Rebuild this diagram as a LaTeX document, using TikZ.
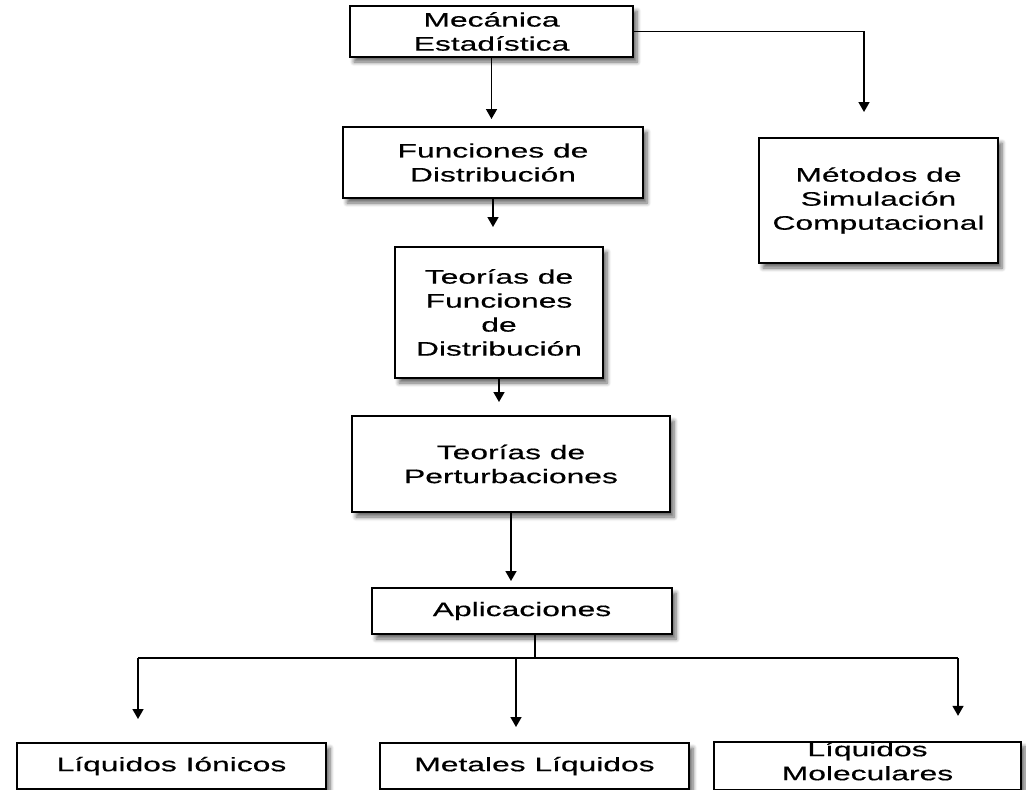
\documentclass[tikz,border=0pt]{standalone}
\usepackage{fontspec}
\setmainfont{Liberation Sans}[FakeStretch=1.63, FakeBold=0.4]
\usetikzlibrary{arrows.meta, shadows.blur}
\tikzstyle{box} = [rectangle, draw=black, line width=1pt, fill=white, align=center, inner sep=0pt, text=black, font=\fontsize{9.75pt}{12pt}\selectfont, blur shadow={shadow xshift=2pt, shadow yshift=-2.5pt, shadow blur steps=6, shadow opacity=60}]
\tikzstyle{arrow} = [line width=0.8pt, -{Triangle[width=5.5pt, length=5pt]}]
\tikzstyle{line} = [line width=0.8pt]

\begin{document}
\begin{tikzpicture}[x=0.5pt, y=-0.5pt]
    \useasboundingbox (0,0) rectangle (1026,789);
    \node (mec) [box, minimum width=141.5pt, minimum height=25.5pt] at (491.5,31.5) {Mecánica\\Estadística};
    \node (fun) [box, minimum width=150pt, minimum height=35.5pt] at (493,162.5) {Funciones de\\Distribución};
    \node (tfd) [box, minimum width=104pt, minimum height=65.5pt] at (499,312.5) {Teorías de\\Funciones\\de\\Distribución};
    \node (per) [box, minimum width=159pt, minimum height=48pt] at (511,464) {Teorías de\\Perturbaciones};
    \node (apl) [box, minimum width=150pt, minimum height=23pt] at (522,611) {Aplicaciones};
    \node (met) [box, minimum width=119.5pt, minimum height=62.5pt] at (878.5,200.5) {Métodos de\\Simulación\\Computacional};
    \node (ion) [box, minimum width=154.5pt, minimum height=23pt] at (171.5,766) {Líquidos Iónicos};
    \node (mlq) [box, minimum width=154.5pt, minimum height=23pt] at (534.5,766) {Metales Líquidos};
    \node (mol) [box, minimum width=153.5pt, minimum height=23pt, text depth=5pt] at (867.5,766) {Líquidos\\Moleculares};

    % branch points below Aplicaciones
    \coordinate (busL) at (138,658);
    \coordinate (busM) at (516,658);
    \coordinate (busR) at (958,658);

    \draw [arrow, shorten >=3.5pt] (mec.south) -- (mec.south |- fun.north);
    \draw [arrow, shorten >=12.5pt] (mec.east) -| ([xshift=-7.25pt]met.north);
    \draw [arrow, shorten >=9.5pt] (fun.south) -- (fun.south |- tfd.north);
    \draw [arrow, shorten >=6.5pt] (tfd.south) -- (tfd.south |- per.north);
    \draw [arrow, shorten >=3pt] (per.south) -- (per.south |- apl.north);
    \draw [line] ([xshift=6.5pt]apl.south) -- ([xshift=6.5pt]apl.south |- busL);
    \draw [line] (busL) -- (busR);
    \draw [arrow, shorten >=11.5pt] (busL) -- (busL |- ion.north);
    \draw [arrow, shorten >=7.5pt] (busM) -- (busM |- mlq.north);
    \draw [arrow, shorten >=12.5pt] (busR) -- (busR |- mol.north);
\end{tikzpicture}
\end{document}
